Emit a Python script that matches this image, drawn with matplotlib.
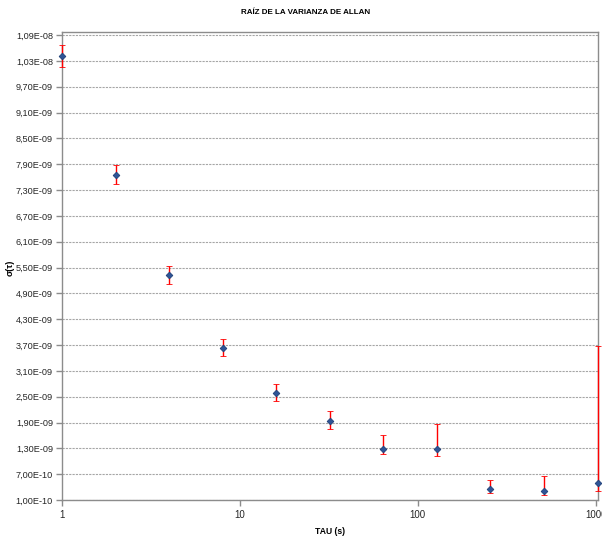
import numpy as np
import matplotlib
matplotlib.use('Agg')
import matplotlib.pyplot as plt
from matplotlib.ticker import FixedLocator, FuncFormatter, NullLocator

plt.rcParams['font.family'] = ['Liberation Sans Narrow', 'Liberation Sans', 'DejaVu Sans']

# datos
tau = [1, 2, 4, 8, 16, 32, 64, 128, 256, 512, 1024]
sigma = [1.041e-08, 7.66e-09, 5.32e-09, 3.63e-09, 2.58e-09, 1.93e-09,
         1.29e-09, 1.28e-09, 3.55e-10, 3.09e-10, 4.87e-10]
err_up = [2.6e-10, 2.2e-10, 2.1e-10, 2.1e-10, 2.1e-10, 2.4e-10,
          3.2e-10, 5.9e-10, 2.0e-10, 3.4e-10, 3.19e-09]
err_down = [2.4e-10, 2.1e-10, 2.0e-10, 1.9e-10, 1.9e-10, 1.9e-10,
            1.3e-10, 1.6e-10, 8.5e-11, 1.0e-10, 1.9e-10]
yticks = np.arange(1e-10, 1.1e-08, 6e-10)
xticks = [1, 10, 100, 1000]

fig = plt.figure(figsize=(6.02, 5.39), dpi=100)
ax = fig.add_axes([0.1030, 0.0724, 0.8898, 0.8688])

cont = ax.errorbar(tau, sigma, yerr=[err_down, err_up], fmt='D', color='#2f5597',
                   markersize=3.4, markeredgecolor='#1f3f77', markeredgewidth=0.6,
                   ecolor='#ff0000', elinewidth=1.0, capsize=2.5, capthick=1.0,
                   zorder=3)
for art in cont.get_children():
    art.set_clip_on(False)

ax.set_xscale('log')
ax.set_xlim(1, 1026)
ax.set_ylim(1e-10, 1.098e-08)

ax.xaxis.set_major_locator(FixedLocator(xticks))
ax.xaxis.set_minor_locator(NullLocator())
ax.xaxis.set_major_formatter(FuncFormatter(lambda v, p: '%d' % v))
ax.yaxis.set_major_locator(FixedLocator(yticks))
ax.yaxis.set_major_formatter(FuncFormatter(lambda v, p: ('%.2E' % v).replace('.', ',')))

ax.grid(axis='y', color='#a6a6a6', linestyle=(0, (2, 1)), linewidth=0.8)
ax.set_axisbelow(True)
for s in ax.spines.values():
    s.set_color('#8c8c8c')
    s.set_linewidth(1.0)
ax.tick_params(axis='both', colors='#8c8c8c', labelcolor='#262626',
               labelsize=7, length=4, width=1.0)
ax.tick_params(axis='y', labelsize=6.6, pad=2.5)

fig.text(306 / 602, 1 - 12 / 539, 'RAÍZ DE LA VARIANZA DE ALLAN', ha='center',
         va='center', fontsize=5.8, fontweight='bold')
fig.text(330 / 602, 1 - 531 / 539, 'TAU (s)', ha='center', va='center',
         fontsize=6.2, fontweight='bold')
fig.text(10 / 602, 1 - 268 / 539, 'σ(τ)', ha='center', va='center',
         fontsize=6.5, fontweight='bold', rotation=90)

fig.savefig('out.png', dpi=100)
